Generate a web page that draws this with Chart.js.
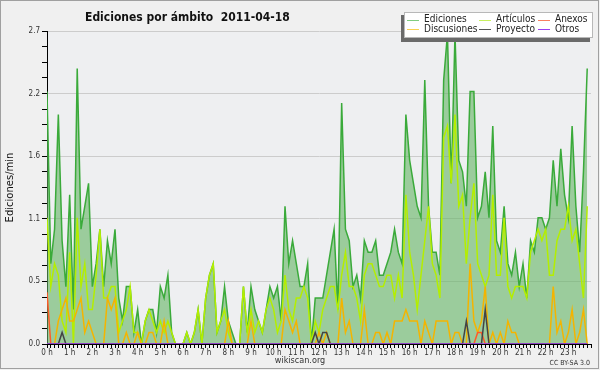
<!DOCTYPE html>
<html>
<head>
<meta charset="utf-8">
<script src="https://cdn.jsdelivr.net/npm/chart.js@4.4.1/dist/chart.umd.min.js"></script>
<style>
html, body { margin: 0; padding: 0; background: #f0f0f0; }
</style>
</head>
<body>
<canvas id="ambitos" width="600" height="370"></canvas>
<script>
// ediciones por minuto, un valor cada 10 minutos (0:00 .. 23:50)
var hourLabels = ['0 h','1 h','2 h','3 h','4 h','5 h','6 h','7 h','8 h','9 h','10 h','11 h',
    '12 h','13 h','14 h','15 h','16 h','17 h','18 h','19 h','20 h','21 h','22 h','23 h'];

var ediciones = [
    2.2,0.7,1.0,2.0,0.9,0.5,1.3,0.3,2.4,1.0,
    1.2,1.4,0.5,0.7,1.0,0.5,0.9,0.7,1.0,0.4,
    0.2,0.5,0.5,0.1,0.3,0,0.2,0.3,0.3,0.1,
    0.5,0.4,0.6,0.1,0,0,0,0.1,0,0.1,
    0.3,0,0.4,0.6,0.7,0.1,0.2,0.5,0.2,0.1,
    0,0,0.5,0.1,0.5,0.3,0.2,0.1,0.3,0.5,
    0.4,0.5,0.2,1.2,0.7,0.9,0.7,0.5,0.5,0.7,
    0,0.4,0.4,0.4,0.6,0.8,1.0,0.3,2.1,1.0,
    0.9,0.5,0.6,0.4,0.9,0.8,0.8,0.9,0.6,0.6,
    0.7,0.8,1.0,0.8,0.7,2.0,1.6,1.4,1.2,1.1,
    2.3,1.2,0.8,0.8,0.6,2.3,2.7,1.4,2.7,1.6,
    1.5,1.2,2.2,2.2,1.1,1.2,1.5,1.1,1.9,0.9,
    0.8,1.2,0.7,0.6,0.8,0.5,0.7,0.4,0.9,0.8,
    1.1,1.1,1.0,1.1,1.6,1.2,1.7,1.3,1.1,1.9,
    1.2,0.8,1.5,2.4
];
var articulos = [
    1.1,0.5,0.7,0.6,0.2,0.1,0.8,0,1.1,0.5,
    0.7,0.3,0.3,0.6,1.0,0.4,0.4,0.5,0.5,0.1,
    0.2,0.3,0.5,0.1,0.1,0,0.2,0.3,0.2,0.1,
    0.2,0.1,0.2,0.1,0,0,0,0.1,0,0.1,
    0.3,0,0.4,0.6,0.7,0.1,0.2,0.3,0.1,0,
    0,0,0.5,0.1,0.3,0.1,0.2,0.1,0.3,0.4,
    0.3,0.1,0.2,0.6,0.3,0.2,0.4,0.4,0.5,0.4,
    0,0.2,0.1,0.3,0.4,0.5,0.5,0.3,0.6,0.8,
    0.5,0.5,0.4,0.2,0.6,0.7,0.7,0.6,0.5,0.5,
    0.6,0.6,0.4,0.6,0.4,1.3,0.8,0.6,0.3,0.6,
    0.9,1.2,0.7,0.6,0.4,1.8,1.9,1.4,2.0,1.2,
    1.3,0.7,1.1,1.4,0.7,0.6,0.5,0.6,1.3,0.6,
    0.6,1.1,0.5,0.4,0.5,0.5,0.5,0.4,0.8,0.9,
    1.0,0.9,1.0,0.6,0.6,0.9,1.0,1.0,1.2,0.9,
    1.0,0.7,0.4,1.2
];
var discusiones = [
    0,0,0,0.2,0.3,0.4,0.2,0.2,0.3,0.4,
    0.1,0.2,0.1,0,0,0,0.4,0.3,0.4,0,
    0,0.1,0,0,0.1,0,0,0.1,0.1,0,
    0,0.2,0,0,0,0,0,0,0,0,
    0,0,0,0,0,0,0,0,0.2,0,
    0,0,0,0,0.2,0,0,0,0,0,
    0,0,0,0.3,0.2,0.1,0.2,0,0,0,
    0,0,0.1,0,0.1,0,0,0,0.4,0.1,
    0.2,0,0,0,0.3,0,0,0.1,0.1,0,
    0.1,0,0.2,0.2,0.2,0.3,0.2,0.2,0.2,0,
    0.2,0.1,0,0.2,0.2,0.2,0.2,0,0.1,0.1,
    0,0,0.7,0.2,0.1,0.2,0.5,0,0.1,0,
    0.1,0,0.2,0.1,0.1,0,0,0,0,0,
    0,0,0,0,0.5,0.1,0.2,0,0.1,0.3,
    0,0.1,0.3,0
];
var proyecto = [];
var anexos = [];
var otros = [];
for (var i = 0; i < 144; i++) { proyecto.push(0); anexos.push(0); otros.push(0); }
proyecto[4] = 0.1; proyecto[71] = 0.1; proyecto[73] = 0.1; proyecto[74] = 0.1;
proyecto[111] = 0.2; proyecto[116] = 0.3;
anexos[0] = 0.45; anexos[114] = 0.1; anexos[115] = 0.1;

var yMax = 30 / 11;   // 2.727, la escala del original
var yStep = yMax / 20;

function toPoints(arr) {
    return arr.map(function (v, i) { return { x: i, y: v }; });
}

var FONT = "'DejaVu Sans Condensed', 'DejaVu Sans', sans-serif";

// leyenda: [indice del dataset, columna, fila]
var legendSlots = [[0, 0, 0], [2, 0, 1], [1, 1, 0], [4, 1, 1], [3, 2, 0], [5, 2, 1]];
var legendCols = [407, 479, 538];
var legendRows = [19.5, 29];

var marco = {
    id: 'marco',
    beforeDraw: function (chart) {
        var ctx = chart.ctx, a = chart.chartArea;
        ctx.save();
        ctx.fillStyle = '#f0f0f0';
        ctx.fillRect(0, 0, chart.width, chart.height);
        ctx.fillStyle = '#eeeff1';
        ctx.fillRect(a.left, a.top, a.right - a.left, a.bottom - a.top);
        ctx.restore();
    },
    afterDraw: function (chart) {
        var ctx = chart.ctx;
        ctx.save();
        ctx.strokeStyle = '#a0a0a0';
        ctx.lineWidth = 1;
        ctx.strokeRect(0.5, 0.5, 598, 368);

        ctx.fillStyle = '#111';
        ctx.font = 'bold 12px ' + FONT;
        ctx.textBaseline = 'alphabetic';
        ctx.fillText('Ediciones por \u00e1mbito  2011-04-18', 85, 21);

        // caja de la leyenda con sombra
        ctx.fillStyle = '#6a6a6a';
        ctx.fillRect(401, 15, 189, 27);
        ctx.fillStyle = '#ffffff';
        ctx.fillRect(404, 12, 189, 26);
        ctx.strokeStyle = '#b8b8b8';
        ctx.strokeRect(404.5, 12.5, 188, 25);
        ctx.font = '10px ' + FONT;
        ctx.textBaseline = 'middle';
        legendSlots.forEach(function (s) {
            var ds = chart.data.datasets[s[0]];
            var x = legendCols[s[1]], y = legendRows[s[2]];
            ctx.strokeStyle = ds.legendColor;
            ctx.lineWidth = 1;
            ctx.beginPath();
            ctx.moveTo(x, Math.round(y) + 0.5);
            ctx.lineTo(x + 12, Math.round(y) + 0.5);
            ctx.stroke();
            ctx.fillStyle = '#222';
            ctx.fillText(ds.label, x + 17, y);
        });

        ctx.textBaseline = 'alphabetic';
        ctx.fillStyle = '#333';
        ctx.font = '9px ' + FONT;
        ctx.textAlign = 'center';
        ctx.fillText('wikiscan.org', 300, 363);
        ctx.font = '7px ' + FONT;
        ctx.textAlign = 'right';
        ctx.fillText('CC BY-SA 3.0', 590, 365);
        ctx.restore();
    }
};

function buildAmbitosChart() {
    var ctx = document.getElementById('ambitos').getContext('2d');
    new Chart(ctx, {
        type: 'line',
        data: {
            datasets: [{
                label: 'Ediciones',
                data: toPoints(ediciones),
                borderColor: '#3aaa3a',
                legendColor: '#80cc80',
                backgroundColor: 'rgba(100,180,100,0.6)',
                fill: 'origin',
                order: 6
            }, {
                label: 'Art\u00edculos',
                data: toPoints(articulos),
                borderColor: '#b4ee00',
                legendColor: '#c8f060',
                order: 5
            }, {
                label: 'Discusiones',
                data: toPoints(discusiones),
                borderColor: '#f4b400',
                legendColor: '#f8d050',
                order: 4
            }, {
                label: 'Anexos',
                data: toPoints(anexos),
                borderColor: '#ff5a28',
                legendColor: '#f88060',
                order: 3
            }, {
                label: 'Proyecto',
                data: toPoints(proyecto),
                borderColor: '#444444',
                legendColor: '#555555',
                order: 2
            }, {
                label: 'Otros',
                data: toPoints(otros),
                borderColor: '#9a40f0',
                legendColor: '#9a40f0',
                order: 1
            }]
        },
        options: {
            responsive: false,
            animation: false,
            layout: { padding: { top: 31, right: 9, left: 0, bottom: 0 } },
            elements: {
                point: { radius: 0 },
                line: { borderWidth: 1.5, tension: 0, fill: false }
            },
            plugins: {
                legend: { display: false },
                title: { display: false },
                tooltip: { enabled: false }
            },
            scales: {
                x: {
                    type: 'linear',
                    min: 0,
                    max: 144,
                    z: 1,
                    afterBuildTicks: function (s) {
                        var t = [];
                        for (var k = 0; k <= 144; k++) t.push({ value: k });
                        s.ticks = t;
                    },
                    afterFit: function (s) { s.height = 26; },
                    border: { color: '#000', width: 1 },
                    grid: { drawOnChartArea: false, tickLength: 4, tickColor: '#000' },
                    ticks: {
                        autoSkip: false,
                        maxRotation: 0,
                        padding: 0,
                        color: '#333',
                        font: { family: FONT, size: 8 },
                        callback: function (v) {
                            return (v % 6 === 0 && v < 144) ? hourLabels[v / 6] : '';
                        }
                    }
                },
                y: {
                    min: 0,
                    max: yMax,
                    afterBuildTicks: function (s) {
                        var t = [];
                        for (var k = 0; k <= 20; k++) t.push({ value: k * yStep });
                        s.ticks = t;
                    },
                    afterFit: function (s) { s.width = 47; },
                    border: { color: '#000', width: 1 },
                    grid: {
                        tickLength: 5,
                        tickColor: '#000',
                        color: function (c) { return c.index % 4 === 0 ? '#cccccc' : 'rgba(0,0,0,0)'; }
                    },
                    ticks: {
                        padding: 2,
                        color: '#333',
                        font: { family: FONT, size: 8 },
                        callback: function (v, idx) { return idx % 4 === 0 ? v.toFixed(1) : ''; }
                    },
                    title: {
                        display: true,
                        text: 'Ediciones/min',
                        color: '#111',
                        font: { family: "'DejaVu Sans', sans-serif", size: 10 },
                        padding: { top: 4, bottom: 0 }
                    }
                }
            }
        },
        plugins: [marco]
    });
}

buildAmbitosChart();
</script>
</body>
</html>
